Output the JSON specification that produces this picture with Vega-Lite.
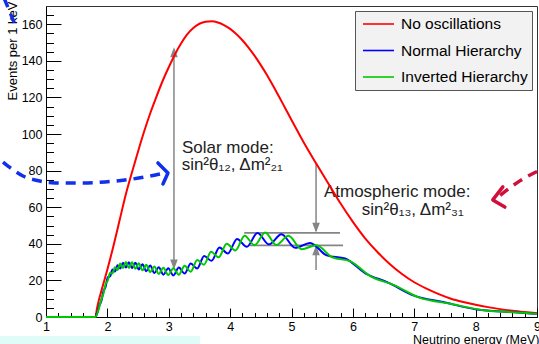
{
 "$schema": "https://vega.github.io/schema/vega-lite/v6.json",
 "width": 491, "height": 311,
 "autosize": {"type": "none"},
 "padding": {"left": 46, "top": 6, "right": 2, "bottom": 27},
 "background": "white",
 "config": {"view": {"stroke": "#333", "strokeWidth": 1}, "font": "Liberation Sans",
  "legend": {"orient": "none", "legendX": 309, "legendY": 5, "title": null, "fillColor": "#f2f2f2", "strokeColor": "#555", "padding": 4, "symbolType": "M-0.625,0L3.25,0", "symbolSize": 256, "symbolStrokeWidth": 1.6, "labelFontSize": 15.5, "labelFont": "Liberation Sans", "labelColor": "#000", "labelOffset": 24, "rowPadding": 8.5}},
 "resolve": {"axis": {"x": "independent", "y": "independent"}},
 "datasets": {
  "box": [{"x1": 0.25, "x2": 3.51, "y1": -10.4, "y2": -16}],
  "labels": [
   {"t": "Solar mode:", "E": 3.215, "N": 89.7},
   {"t": "sin²θ₁₂, Δm²₂₁", "E": 3.21, "N": 80.2},
   {"t": "Atmospheric mode:", "E": 5.528, "N": 65.6},
   {"t": "sin²θ₁₃, Δm²₃₁", "E": 6.146, "N": 55.5}
  ],
  "vrules": [
   {"E": 3.085, "N1": 27, "N2": 146},
   {"E": 5.40, "N1": 47, "N2": 84},
   {"E": 5.40, "N1": 25.7, "N2": 38.5}
  ],
  "hrules": [
   {"E1": 4.23, "E2": 5.79, "N": 46},
   {"E1": 4.32, "E2": 5.84, "N": 39.2}
  ],
  "tips": [
   {"dir": "up", "E": 3.085, "N": 147.5},
   {"dir": "down", "E": 3.085, "N": 26},
   {"dir": "down", "E": 5.40, "N": 46},
   {"dir": "up", "E": 5.40, "N": 39.2}
  ],
  "deco": [
   {"g": "b1", "E": 0.300, "N": 84.7},
   {"g": "b1", "E": 0.446, "N": 80.9},
   {"g": "b1", "E": 0.625, "N": 77.1},
   {"g": "b1", "E": 0.821, "N": 74.9},
   {"g": "b1", "E": 1.147, "N": 73.3},
   {"g": "b1", "E": 1.554, "N": 73.3},
   {"g": "b1", "E": 1.961, "N": 73.8},
   {"g": "b1", "E": 2.287, "N": 74.9},
   {"g": "b1", "E": 2.612, "N": 76.5},
   {"g": "b1", "E": 2.857, "N": 78.2},
   {"g": "b2", "E": 0.316, "N": 174.4},
   {"g": "b2", "E": 0.511, "N": 158.5},
   {"g": "r1", "E": 9.127, "N": 81.5},
   {"g": "r1", "E": 8.72, "N": 74.4},
   {"g": "r1", "E": 8.40, "N": 66.5}
  ],
  "chev": [
   {"g": "b", "o": 1, "E": 2.824, "N": 84.2},
   {"g": "b", "o": 2, "E": 2.987, "N": 78.7},
   {"g": "b", "o": 3, "E": 2.906, "N": 72.7},
   {"g": "r", "o": 1, "E": 8.443, "N": 71.1},
   {"g": "r", "o": 2, "E": 8.28, "N": 64},
   {"g": "r", "o": 3, "E": 8.476, "N": 60.1}
  ],
  "curves": [
   {"series": "No oscillations", "E": 1.0, "N": 0},
   {"series": "No oscillations", "E": 1.806, "N": 0},
   {"series": "No oscillations", "E": 1.83, "N": 4.5},
   {"series": "No oscillations", "E": 1.86, "N": 9},
   {"series": "No oscillations", "E": 1.9, "N": 14},
   {"series": "No oscillations", "E": 1.95, "N": 20},
   {"series": "No oscillations", "E": 2.0, "N": 26},
   {"series": "No oscillations", "E": 2.1, "N": 39},
   {"series": "No oscillations", "E": 2.2, "N": 53},
   {"series": "No oscillations", "E": 2.3, "N": 67},
   {"series": "No oscillations", "E": 2.4, "N": 79},
   {"series": "No oscillations", "E": 2.5, "N": 90.5},
   {"series": "No oscillations", "E": 2.6, "N": 101.5},
   {"series": "No oscillations", "E": 2.7, "N": 111.5},
   {"series": "No oscillations", "E": 2.8, "N": 120.5},
   {"series": "No oscillations", "E": 2.9, "N": 129},
   {"series": "No oscillations", "E": 3.0, "N": 136.5},
   {"series": "No oscillations", "E": 3.1, "N": 143.5},
   {"series": "No oscillations", "E": 3.2, "N": 149.5},
   {"series": "No oscillations", "E": 3.3, "N": 154.5},
   {"series": "No oscillations", "E": 3.4, "N": 158},
   {"series": "No oscillations", "E": 3.5, "N": 160.3},
   {"series": "No oscillations", "E": 3.6, "N": 161.4},
   {"series": "No oscillations", "E": 3.7, "N": 161.6},
   {"series": "No oscillations", "E": 3.8, "N": 161},
   {"series": "No oscillations", "E": 3.9, "N": 159.6},
   {"series": "No oscillations", "E": 4.0, "N": 157.5},
   {"series": "No oscillations", "E": 4.1, "N": 154.7},
   {"series": "No oscillations", "E": 4.2, "N": 151.3},
   {"series": "No oscillations", "E": 4.3, "N": 147.3},
   {"series": "No oscillations", "E": 4.4, "N": 142.7},
   {"series": "No oscillations", "E": 4.5, "N": 137.7},
   {"series": "No oscillations", "E": 4.6, "N": 132.3},
   {"series": "No oscillations", "E": 4.7, "N": 126.4},
   {"series": "No oscillations", "E": 4.8, "N": 120.3},
   {"series": "No oscillations", "E": 4.9, "N": 114},
   {"series": "No oscillations", "E": 5.0, "N": 107.7},
   {"series": "No oscillations", "E": 5.1, "N": 101.5},
   {"series": "No oscillations", "E": 5.2, "N": 95.4},
   {"series": "No oscillations", "E": 5.4, "N": 84},
   {"series": "No oscillations", "E": 5.6, "N": 73},
   {"series": "No oscillations", "E": 5.8, "N": 62},
   {"series": "No oscillations", "E": 6.0, "N": 52},
   {"series": "No oscillations", "E": 6.2, "N": 43},
   {"series": "No oscillations", "E": 6.4, "N": 35.5},
   {"series": "No oscillations", "E": 6.6, "N": 29},
   {"series": "No oscillations", "E": 6.8, "N": 23.5},
   {"series": "No oscillations", "E": 7.0, "N": 19},
   {"series": "No oscillations", "E": 7.2, "N": 15.5},
   {"series": "No oscillations", "E": 7.4, "N": 12.5},
   {"series": "No oscillations", "E": 7.6, "N": 10},
   {"series": "No oscillations", "E": 7.8, "N": 8.2},
   {"series": "No oscillations", "E": 8.0, "N": 6.7},
   {"series": "No oscillations", "E": 8.2, "N": 5.4},
   {"series": "No oscillations", "E": 8.4, "N": 4.3},
   {"series": "No oscillations", "E": 8.6, "N": 3.4},
   {"series": "No oscillations", "E": 8.8, "N": 2.7},
   {"series": "No oscillations", "E": 9.0, "N": 2.1},

   {"series": "Normal Hierarchy", "E": 1.0, "N": 0},
   {"series": "Normal Hierarchy", "E": 1.806, "N": 0},
   {"series": "Normal Hierarchy", "E": 1.8705, "N": 6.35},
   {"series": "Normal Hierarchy", "E": 1.9029, "N": 8.95},
   {"series": "Normal Hierarchy", "E": 1.9365, "N": 14.0},
   {"series": "Normal Hierarchy", "E": 1.9713, "N": 16.6},
   {"series": "Normal Hierarchy", "E": 2.0073, "N": 21.75},
   {"series": "Normal Hierarchy", "E": 2.0447, "N": 22.25},
   {"series": "Normal Hierarchy", "E": 2.0835, "N": 25.9},
   {"series": "Normal Hierarchy", "E": 2.1238, "N": 24.9},
   {"series": "Normal Hierarchy", "E": 2.1657, "N": 28.25},
   {"series": "Normal Hierarchy", "E": 2.2093, "N": 26.5},
   {"series": "Normal Hierarchy", "E": 2.2546, "N": 29.65},
   {"series": "Normal Hierarchy", "E": 2.3019, "N": 27.0},
   {"series": "Normal Hierarchy", "E": 2.3512, "N": 29.95},
   {"series": "Normal Hierarchy", "E": 2.4026, "N": 26.7},
   {"series": "Normal Hierarchy", "E": 2.4564, "N": 29.65},
   {"series": "Normal Hierarchy", "E": 2.5126, "N": 26.0},
   {"series": "Normal Hierarchy", "E": 2.5714, "N": 28.9},
   {"series": "Normal Hierarchy", "E": 2.6331, "N": 25.05},
   {"series": "Normal Hierarchy", "E": 2.6978, "N": 28.1},
   {"series": "Normal Hierarchy", "E": 2.7657, "N": 24.05},
   {"series": "Normal Hierarchy", "E": 2.8372, "N": 27.25},
   {"series": "Normal Hierarchy", "E": 2.9125, "N": 23.15},
   {"series": "Normal Hierarchy", "E": 2.9918, "N": 26.7},
   {"series": "Normal Hierarchy", "E": 3.0756, "N": 22.7},
   {"series": "Normal Hierarchy", "E": 3.1643, "N": 27.1},
   {"series": "Normal Hierarchy", "E": 3.2582, "N": 23.8},
   {"series": "Normal Hierarchy", "E": 3.3578, "N": 29.2},
   {"series": "Normal Hierarchy", "E": 3.4637, "N": 26.5},
   {"series": "Normal Hierarchy", "E": 3.5765, "N": 33.4},
   {"series": "Normal Hierarchy", "E": 3.697, "N": 30.7},
   {"series": "Normal Hierarchy", "E": 3.8258, "N": 38.0},
   {"series": "Normal Hierarchy", "E": 3.9639, "N": 34.7},
   {"series": "Normal Hierarchy", "E": 4.1124, "N": 42.7},
   {"series": "Normal Hierarchy", "E": 4.2724, "N": 38.4},
   {"series": "Normal Hierarchy", "E": 4.4453, "N": 45.9},
   {"series": "Normal Hierarchy", "E": 4.6329, "N": 39.7},
   {"series": "Normal Hierarchy", "E": 4.837, "N": 45.25},
   {"series": "Normal Hierarchy", "E": 5.0599, "N": 37.8},
   {"series": "Normal Hierarchy", "E": 5.3043, "N": 40.5},
   {"series": "Normal Hierarchy", "E": 5.5736, "N": 33.7},
   {"series": "Normal Hierarchy", "E": 5.8717, "N": 32.0},
   {"series": "Normal Hierarchy", "E": 6.2034, "N": 23.9},
   {"series": "Normal Hierarchy", "E": 6.5749, "N": 18.8},
   {"series": "Normal Hierarchy", "E": 6.9936, "N": 11.7},
   {"series": "Normal Hierarchy", "E": 7.4694, "N": 8.15},
   {"series": "Normal Hierarchy", "E": 8.0146, "N": 4.15},
   {"series": "Normal Hierarchy", "E": 8.6457, "N": 2.6},
   {"series": "Normal Hierarchy", "E": 9.0, "N": 1.6},

   {"series": "Inverted Hierarchy", "E": 1.0, "N": 0},
   {"series": "Inverted Hierarchy", "E": 1.806, "N": 0},
   {"series": "Inverted Hierarchy", "E": 1.8705, "N": 5.75},
   {"series": "Inverted Hierarchy", "E": 1.9029, "N": 9.75},
   {"series": "Inverted Hierarchy", "E": 1.9365, "N": 12.8},
   {"series": "Inverted Hierarchy", "E": 1.9713, "N": 18.0},
   {"series": "Inverted Hierarchy", "E": 2.0073, "N": 20.05},
   {"series": "Inverted Hierarchy", "E": 2.0447, "N": 24.15},
   {"series": "Inverted Hierarchy", "E": 2.0835, "N": 23.8},
   {"series": "Inverted Hierarchy", "E": 2.1238, "N": 27.2},
   {"series": "Inverted Hierarchy", "E": 2.1657, "N": 25.75},
   {"series": "Inverted Hierarchy", "E": 2.2093, "N": 29.2},
   {"series": "Inverted Hierarchy", "E": 2.2546, "N": 26.75},
   {"series": "Inverted Hierarchy", "E": 2.3019, "N": 30.0},
   {"series": "Inverted Hierarchy", "E": 2.3512, "N": 26.85},
   {"series": "Inverted Hierarchy", "E": 2.4026, "N": 29.9},
   {"series": "Inverted Hierarchy", "E": 2.4564, "N": 26.35},
   {"series": "Inverted Hierarchy", "E": 2.5126, "N": 29.4},
   {"series": "Inverted Hierarchy", "E": 2.5714, "N": 25.5},
   {"series": "Inverted Hierarchy", "E": 2.6331, "N": 28.55},
   {"series": "Inverted Hierarchy", "E": 2.6978, "N": 24.5},
   {"series": "Inverted Hierarchy", "E": 2.7657, "N": 27.65},
   {"series": "Inverted Hierarchy", "E": 2.8372, "N": 23.55},
   {"series": "Inverted Hierarchy", "E": 2.9125, "N": 26.95},
   {"series": "Inverted Hierarchy", "E": 2.9918, "N": 22.9},
   {"series": "Inverted Hierarchy", "E": 3.0756, "N": 26.7},
   {"series": "Inverted Hierarchy", "E": 3.1643, "N": 23.1},
   {"series": "Inverted Hierarchy", "E": 3.2582, "N": 28.0},
   {"series": "Inverted Hierarchy", "E": 3.3578, "N": 24.8},
   {"series": "Inverted Hierarchy", "E": 3.4637, "N": 31.1},
   {"series": "Inverted Hierarchy", "E": 3.574, "N": 28.6},
   {"series": "Inverted Hierarchy", "E": 3.6895, "N": 35.6},
   {"series": "Inverted Hierarchy", "E": 3.8125, "N": 32.6},
   {"series": "Inverted Hierarchy", "E": 3.944, "N": 40.0},
   {"series": "Inverted Hierarchy", "E": 4.0848, "N": 36.35},
   {"series": "Inverted Hierarchy", "E": 4.2361, "N": 44.4},
   {"series": "Inverted Hierarchy", "E": 4.399, "N": 39.25},
   {"series": "Inverted Hierarchy", "E": 4.5712, "N": 46.2},
   {"series": "Inverted Hierarchy", "E": 4.7532, "N": 39.4},
   {"series": "Inverted Hierarchy", "E": 4.9504, "N": 44.35},
   {"series": "Inverted Hierarchy", "E": 5.1646, "N": 37.1},
   {"series": "Inverted Hierarchy", "E": 5.4035, "N": 39.2},
   {"series": "Inverted Hierarchy", "E": 5.6656, "N": 32.6},
   {"series": "Inverted Hierarchy", "E": 5.9609, "N": 30.4},
   {"series": "Inverted Hierarchy", "E": 6.2887, "N": 22.2},
   {"series": "Inverted Hierarchy", "E": 6.6626, "N": 17.6},
   {"series": "Inverted Hierarchy", "E": 7.0839, "N": 10.6},
   {"series": "Inverted Hierarchy", "E": 7.5724, "N": 7.35},
   {"series": "Inverted Hierarchy", "E": 8.1333, "N": 3.7},
   {"series": "Inverted Hierarchy", "E": 8.784, "N": 2.3},
   {"series": "Inverted Hierarchy", "E": 9.0, "N": 1.6}
  ]
 },
 "layer": [
  {
   "data": {"name": "box"},
   "mark": {"type": "rect", "color": "#dffcf9"},
   "encoding": {
    "x": {"field": "x1", "type": "quantitative", "scale": {"domain": [1, 9], "nice": false, "zero": false}, "axis": null},
    "x2": {"field": "x2"},
    "y": {"field": "y1", "type": "quantitative", "scale": {"domain": [0, 170], "nice": false}, "axis": null},
    "y2": {"field": "y2"}
   }
  },
  {
   "data": {"name": "labels"},
   "mark": {"type": "text", "align": "left", "baseline": "alphabetic", "fontSize": 17, "font": "Liberation Sans", "color": "#222"},
   "encoding": {
    "x": {"field": "E", "type": "quantitative", "axis": null},
    "y": {"field": "N", "type": "quantitative", "axis": null},
    "text": {"field": "t"}
   }
  },
  {
   "data": {"name": "vrules"},
   "mark": {"type": "rule", "color": "#858585", "strokeWidth": 1.5},
   "encoding": {
    "x": {"field": "E", "type": "quantitative", "axis": null},
    "y": {"field": "N1", "type": "quantitative", "axis": null},
    "y2": {"field": "N2"}
   }
  },
  {
   "data": {"name": "hrules"},
   "mark": {"type": "rule", "color": "#858585", "strokeWidth": 1.8},
   "encoding": {
    "x": {"field": "E1", "type": "quantitative", "axis": null},
    "x2": {"field": "E2"},
    "y": {"field": "N", "type": "quantitative", "axis": null}
   }
  },
  {
   "data": {"name": "tips"},
   "mark": {"type": "point", "filled": true, "color": "#858585", "opacity": 1, "size": 400},
   "encoding": {
    "x": {"field": "E", "type": "quantitative", "axis": null},
    "y": {"field": "N", "type": "quantitative", "axis": null},
    "shape": {"field": "dir", "type": "nominal", "scale": {"domain": ["up", "down"], "range": ["M0,0L-0.38,1L0.38,1Z", "M0,0L-0.38,-1L0.38,-1Z"]}, "legend": null}
   }
  },
  {
   "data": {"name": "curves"},
   "transform": [{"filter": "datum.series === 'No oscillations'"}],
   "mark": {"type": "line", "interpolate": "monotone", "strokeWidth": 2},
   "encoding": {
    "x": {"field": "E", "type": "quantitative",
     "axis": {"orient": "bottom", "values": [1, 2, 3, 4, 5, 6, 7, 8, 9], "tickSize": -9, "labelPadding": 12, "domainColor": "#000", "tickColor": "#000", "labelColor": "#000", "labelFontSize": 12.5, "labelFont": "Liberation Sans", "labelFlush": false, "grid": false,
      "title": "Neutrino energy (MeV)", "titleFont": "Liberation Sans", "titleFontSize": 12.5, "titleFontWeight": "normal", "titleColor": "#000", "titleAnchor": "end", "titleAlign": "right", "titleBaseline": "alphabetic", "titleX": 493, "titleY": 26.5}},
    "y": {"field": "N", "type": "quantitative",
     "axis": {"orient": "left", "values": [0, 20, 40, 60, 80, 100, 120, 140, 160], "tickSize": -15, "labelPadding": 19, "domainColor": "#000", "tickColor": "#000", "labelColor": "#000", "labelFontSize": 12.5, "labelFont": "Liberation Sans", "labelFlush": false, "grid": false,
      "title": "Events per 1 keV", "titleFont": "Liberation Sans", "titleFontSize": 13, "titleFontWeight": "normal", "titleColor": "#000", "titleAnchor": "end", "titleAngle": -90, "titleAlign": "right", "titleBaseline": "middle", "titleX": -34, "titleY": -5}},
    "color": {"field": "series", "type": "nominal",
     "scale": {"domain": ["No oscillations", "Normal Hierarchy", "Inverted Hierarchy"], "range": ["#ff0000", "#0000ff", "#00c800"]}}
   }
  },
  {
   "data": {"name": "curves"},
   "transform": [{"filter": "datum.series === 'Normal Hierarchy'"}],
   "mark": {"type": "line", "interpolate": "monotone", "strokeWidth": 2},
   "encoding": {
    "x": {"field": "E", "type": "quantitative",
     "axis": {"orient": "bottom", "values": [1.2, 1.4, 1.6, 1.8, 2.2, 2.4, 2.6, 2.8, 3.2, 3.4, 3.6, 3.8, 4.2, 4.4, 4.6, 4.8, 5.2, 5.4, 5.6, 5.8, 6.2, 6.4, 6.6, 6.8, 7.2, 7.4, 7.6, 7.8, 8.2, 8.4, 8.6, 8.8], "tickSize": -4.5, "tickColor": "#000", "labels": false, "domain": false, "grid": false, "title": null}},
    "y": {"field": "N", "type": "quantitative",
     "axis": {"orient": "left", "values": [5, 10, 15, 25, 30, 35, 45, 50, 55, 65, 70, 75, 85, 90, 95, 105, 110, 115, 125, 130, 135, 145, 150, 155, 165], "tickSize": -7.5, "tickColor": "#000", "labels": false, "domain": false, "grid": false, "title": null}},
    "color": {"field": "series", "type": "nominal",
     "scale": {"domain": ["No oscillations", "Normal Hierarchy", "Inverted Hierarchy"], "range": ["#ff0000", "#0000ff", "#00c800"]}}
   }
  },
  {
   "data": {"name": "curves"},
   "transform": [{"filter": "datum.series === 'Inverted Hierarchy'"}],
   "mark": {"type": "line", "interpolate": "monotone", "strokeWidth": 2},
   "encoding": {
    "x": {"field": "E", "type": "quantitative", "axis": null},
    "y": {"field": "N", "type": "quantitative", "axis": null},
    "color": {"field": "series", "type": "nominal",
     "scale": {"domain": ["No oscillations", "Normal Hierarchy", "Inverted Hierarchy"], "range": ["#ff0000", "#0000ff", "#00c800"]}}
   }
  },
  {
   "data": {"name": "deco"},
   "transform": [{"filter": "datum.g !== 'r1'"}],
   "mark": {"type": "line", "interpolate": "monotone", "strokeWidth": 3.5, "strokeDash": [10, 7], "color": "#1030ea"},
   "encoding": {
    "x": {"field": "E", "type": "quantitative", "axis": null},
    "y": {"field": "N", "type": "quantitative", "axis": null},
    "detail": {"field": "g"}
   }
  },
  {
   "data": {"name": "deco"},
   "transform": [{"filter": "datum.g === 'r1'"}],
   "mark": {"type": "line", "interpolate": "monotone", "strokeWidth": 3.5, "strokeDash": [10, 7], "color": "#d0103a"},
   "encoding": {
    "x": {"field": "E", "type": "quantitative", "axis": null},
    "y": {"field": "N", "type": "quantitative", "axis": null}
   }
  },
  {
   "data": {"name": "chev"},
   "transform": [{"filter": "datum.g === 'b'"}],
   "mark": {"type": "line", "strokeWidth": 3.5, "color": "#1030ea", "strokeCap": "round", "strokeJoin": "round"},
   "encoding": {
    "x": {"field": "E", "type": "quantitative", "axis": null},
    "y": {"field": "N", "type": "quantitative", "axis": null},
    "order": {"field": "o"}
   }
  },
  {
   "data": {"name": "chev"},
   "transform": [{"filter": "datum.g === 'r'"}],
   "mark": {"type": "line", "strokeWidth": 3.5, "color": "#d0103a", "strokeCap": "round", "strokeJoin": "round"},
   "encoding": {
    "x": {"field": "E", "type": "quantitative", "axis": null},
    "y": {"field": "N", "type": "quantitative", "axis": null},
    "order": {"field": "o"}
   }
  }
 ]
}
